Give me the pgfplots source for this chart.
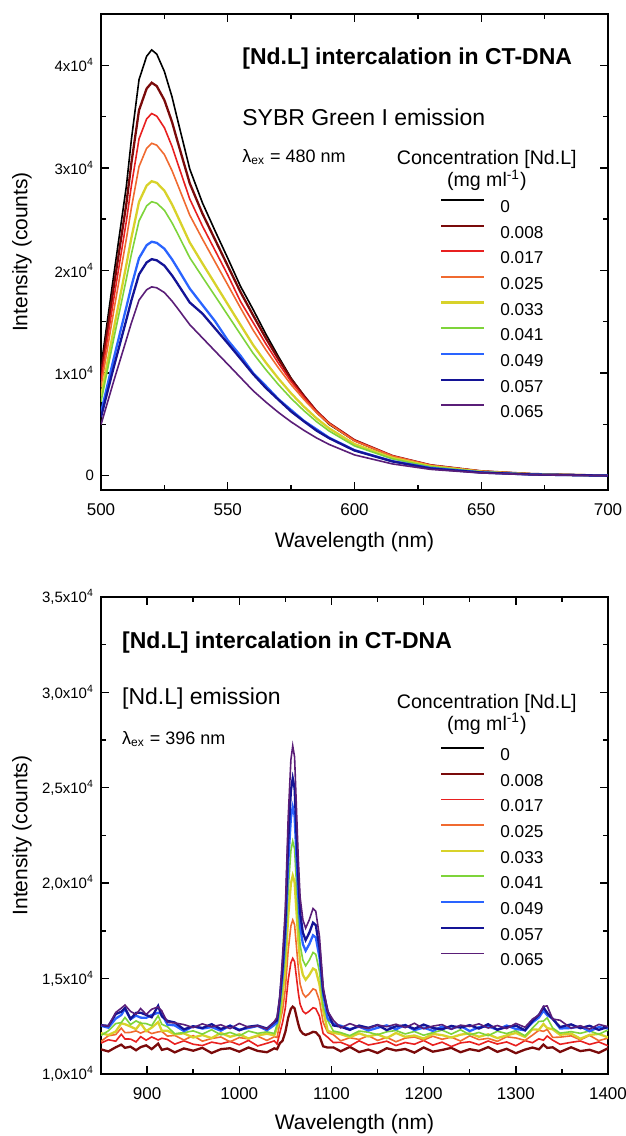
\documentclass[border=0pt]{standalone}
\usepackage{fontspec}
\setmainfont{Liberation Sans}
\usepackage{pgfplots}
\usepackage{pgfplotstable}
\pgfplotsset{compat=1.18}

\definecolor{cK}{HTML}{000000}
\definecolor{cDR}{HTML}{7A0A0A}
\definecolor{cR}{HTML}{E82020}
\definecolor{cO}{HTML}{F06A30}
\definecolor{cY}{HTML}{D8D22A}
\definecolor{cG}{HTML}{7ED43A}
\definecolor{cB}{HTML}{2A64FF}
\definecolor{cN}{HTML}{141496}
\definecolor{cP}{HTML}{5A1E78}

% SYBR Green I emission, counts
\pgfplotstableread{
x   k     dr    r     o     y     g     b     n     p
500 10600 9940  9290  8650  7710  7190  6160  5700  4970
505 19500 18350 17170 16010 14260 13310 11400 10550 9200
510 28200 26500 24780 23070 20550 19170 16420 15190 13250
512 32790 30490 28280 26110 23190 21600 18470 17090 14900
515 38600 35620 32830 30130 26690 24830 21200 19620 17110
518 40880 37730 34770 31910 28270 26300 22460 20780 18120
520 41500 38300 35300 32400 28700 26700 22800 21100 18400
522 41090 37970 35040 32210 28540 26560 22690 20990 18310
525 39400 36610 33920 31300 27780 25870 22120 20470 17850
528 36940 34490 32100 29740 26450 24650 21090 19520 17020
530 34900 32750 30620 28510 25400 23700 20290 18780 16380
535 29900 28500 26970 25400 22730 21250 18240 16880 14720
540 26600 25550 24340 23070 20690 19370 16640 15800 13430
545 23860 23000 21950 20830 18700 17510 15050 14350 12140
550 21200 20450 19560 18600 16700 15650 13200 12900 10860
555 18470 17910 16990 16360 14710 13780 11700 11410 9570
560 16200 15630 14930 14190 12740 11930 10000 9900  8280
565 13820 13410 12860 12270 11030 10340 8750  8560  7180
570 11600 11360 10950 10500 9460  8870  7450  7400  6160
575 9500  9410  9170  8870  8020  7530  6400  6250  5240
580 7800  7800  7650  7440  6740  6340  5350  5300  4420
585 6180  6290  6250  6150  5590  5270  4520  4390  3680
590 5000  5110  5110  5050  4610  4350  3700  3650  3040
600 3400  3460  3440  3380  3080  2900  2480  2450  2020
615 1870  1920  1920  1900  1730  1630  1410  1380  1140
630 1000  1020  1020  1010  920   870   750   700   610
650 420   430   430   430   390   370   320   300   260
670 170   160   160   160   140   130   110   110   90
700 0     0     0     0     0     0     0     0     0
}\sybr

% [Nd.L] emission, counts
\pgfplotstableread{
x    dr    r     o     y     g     b     n     p
850  11290 11620 11710 12140 12020 12530 12560 12560
858  11183 11795 12002 12044 12261 12426 12521 12517
866  11401 11718 12069 12226 12642 12904 13142 13228
872  11540 12082 12405 12658 12694 13092 13264 13449
876  11371 11835 12167 12610 12964 13420 13459 13613
882  11433 11831 12180 12488 12592 12872 12887 13282
888  11244 11683 12261 12350 12783 13060 13203 13125
893  11407 11958 12143 12664 12663 12956 13213 13432
899  11503 11771 12270 12248 12642 12942 13097 13122
905  11304 11943 12121 12430 12533 13090 12973 13395
912  11591 11785 12207 12720 13054 13210 13569 13513
916  11264 11873 12231 12260 12603 13150 13023 13305
922  11337 11812 11986 12270 12481 12590 12786 12708
930  11133 11565 12022 12074 12111 12546 12701 12677
940  11340 11740 11780 12130 12170 12250 12340 12590
950  11220 11560 12010 11910 12260 12500 12500 12430
960  11370 11490 11720 12040 12090 12380 12410 12630
970  11100 11670 11860 11880 12320 12460 12610 12470
980  11300 11580 11940 12150 12050 12270 12360 12580
990  11350 11710 11690 11950 12180 12540 12520 12380
1000 11170 11530 11910 12080 12000 12320 12290 12650
1010 11390 11760 11840 11860 12250 12410 12480 12450
1020 11210 11470 11980 12020 12130 12520 12540 12520
1030 11140 11610 11760 12110 12210 12290 12380 12360
1038 11343 11735 11952 12024 12121 12566 12711 12747
1041 11298 11574 11917 12422 12592 12708 12812 12981
1044 11611 12151 12684 12824 13176 13836 13966 14027
1047 11750 12705 13355 14130 14673 15210 15593 16235
1050 12208 13473 14462 15528 16371 17272 17931 18674
1053 12937 14900 16453 18216 19587 20984 22107 23378
1056 13416 15837 17759 19980 21698 23420 24848 26465
1058 13530 16060 18070 20400 22200 24000 25500 27200
1060 13439 15882 17821 20064 21798 23536 24978 26612
1062 13028 15079 16702 18552 19989 21448 22629 23966
1064 12618 14276 15582 17040 18180 19360 20280 21320
1066 12299 13652 14711 15864 16773 17736 18453 19262
1069 12116 13295 14214 15192 15969 16808 17409 18086
1072 12048 13161 14027 14940 15668 16460 17018 17645
1076 12116 13295 14214 15192 15969 16808 17409 18086
1080 12208 13473 14462 15528 16371 17272 17931 18674
1083 12185 13429 14400 15444 16271 17156 17801 18527
1087 11980 13027 13840 14688 15366 16112 16626 17204
1091 11452 12119 12703 13330 13538 14180 14348 14555
1096 11384 11923 12171 12260 12803 12890 13273 13285
1102 11394 11647 12063 12156 12251 12634 12546 12821
1110 11190 11660 11740 12090 12170 12530 12480 12420
1120 11420 11470 11900 11930 12010 12350 12310 12640
1130 11150 11740 11810 12130 12250 12480 12540 12460
1140 11280 11520 12010 11970 12190 12280 12420 12390
1150 11100 11610 11760 12080 12060 12420 12570 12570
1160 11350 11720 11920 11880 12210 12550 12300 12480
1170 11230 11490 11690 12150 12280 12340 12500 12610
1180 11310 11650 11880 11950 12100 12570 12550 12430
1190 11120 11560 11940 12020 12230 12300 12370 12660
1200 11390 11760 11780 11860 12030 12430 12590 12370
1210 11170 11510 11980 12100 12170 12260 12410 12510
1220 11260 11670 11820 12040 12300 12490 12340 12590
1230 11370 11440 11930 11910 12090 12370 12520 12340
1240 11140 11630 11730 12060 12320 12520 12430 12560
1250 11300 11690 12000 12130 12050 12250 12560 12490
1260 11210 11530 11800 11950 12180 12450 12380 12630
1270 11410 11730 11870 12080 12010 12500 12610 12410
1280 11160 11570 11710 11880 12240 12320 12320 12540
1290 11320 11680 11950 12020 12120 12540 12460 12380
1300 11090 11480 11890 12150 12270 12360 12540 12650
1310 11280 11750 11760 11940 12000 12290 12290 12450
1318 11386 11639 12034 12338 12401 12702 12771 12874
1325 11294 11843 12291 12320 12753 12960 13093 13095
1330 11540 11772 12235 12618 12774 13322 13494 13549
1334 11368 11990 12334 12406 12943 13084 13208 13566
1340 11398 11774 11917 12342 12412 12908 12882 12881
1348 11153 11555 11932 12054 12141 12386 12461 12817
1360 11400 11660 12000 12120 12220 12410 12600 12400
1370 11200 11730 11790 11850 12130 12490 12400 12530
1380 11270 11550 12020 12050 12260 12240 12530 12350
1390 11110 11680 11750 12100 12080 12460 12310 12600
1400 11350 11480 11880 11920 12310 12390 12470 12480
}\ndl

\tikzset{
  note/.style={anchor=west, inner sep=0pt},
  thin/.style={line width=0.8pt},
  thick/.style={line width=1.15pt},
}

\pgfplotsset{
  spec/.style={
    width=253.5pt, height=238pt, scale only axis,
    anchor=south west,
    tick align=inside,
    major tick length=4pt, minor tick length=2.5pt,
    axis line style={line width=0.8pt},
    every tick/.style={black, line width=0.7pt},
    scaled y ticks=false,
    xticklabel style={font=\fontsize{8.5}{8.5}\selectfont, yshift=-3.5pt},
    yticklabel style={font=\fontsize{7.5}{7.5}\selectfont},
    /pgf/number format/assume math mode=true,
    /pgf/number format/1000 sep={},
    minor x tick num=1, minor y tick num=1,
    xlabel={Wavelength (nm)},
    ylabel={Intensity (counts)},
    label style={font=\fontsize{10.5}{10.5}\selectfont},
    ylabel style={at={(axis description cs:-0.156,0.5)}, anchor=center},
    legend cell align=left,
    legend image code/.code={\draw[#1] (0pt,3pt) -- (21.5pt,3pt);},
  },
  leg/.style={
    legend style={at={(axis description cs:0.668,#1)}, anchor=north west,
      draw=none, fill=none, inner sep=0pt, column sep=7.5pt, row sep=6.1pt,
      font=\fontsize{8.6}{8.6}\selectfont,
      nodes={inner sep=0pt, text height=6.5pt, text depth=0pt}},
  },
}

\begin{document}
\begin{tikzpicture}
\useasboundingbox (0,0) rectangle (313pt,568pt);

% top panel
\begin{axis}[spec, leg=0.612,
  at={(50.5pt,323pt)},
  xmin=500, xmax=700, ymin=-1400, ymax=45000,
  xtick={500,550,600,650,700},
  ytick={0,10000,20000,30000,40000},
  yticklabels={0,{1x10\textsuperscript{4}},{2x10\textsuperscript{4}},{3x10\textsuperscript{4}},{4x10\textsuperscript{4}}},
  xlabel style={at={(axis description cs:0.5,-0.109)}, anchor=center},
]
\addplot[cK, thin] table[x=x, y=k] {\sybr};
\addlegendentry{0}
\addplot[cDR, thick] table[x=x, y=dr] {\sybr};
\addlegendentry{0.008}
\addplot[cR, thin] table[x=x, y=r] {\sybr};
\addlegendentry{0.017}
\addplot[cO, thin] table[x=x, y=o] {\sybr};
\addlegendentry{0.025}
\addplot[cY, thick] table[x=x, y=y] {\sybr};
\addlegendentry{0.033}
\addplot[cG, thin] table[x=x, y=g] {\sybr};
\addlegendentry{0.041}
\addplot[cB, thick] table[x=x, y=b] {\sybr};
\addlegendentry{0.049}
\addplot[cN, thick] table[x=x, y=n] {\sybr};
\addlegendentry{0.057}
\addplot[cP, thin] table[x=x, y=p] {\sybr};
\addlegendentry{0.065}
\node[note, font=\fontsize{11.5}{11.5}\selectfont\bfseries]
  at (axis description cs:0.278,0.907) {[Nd.L] intercalation in CT-DNA};
\node[note, font=\fontsize{11.5}{11.5}\selectfont]
  at (axis description cs:0.278,0.784) {SYBR Green I emission};
\node[note, font=\fontsize{9}{9}\selectfont]
  at (axis description cs:0.278,0.700) {λ\textsubscript{ex} = 480 nm};
\node[font=\fontsize{9.8}{9.8}\selectfont]
  at (axis description cs:0.761,0.695) {Concentration [Nd.L]};
\node[font=\fontsize{9.8}{9.8}\selectfont]
  at (axis description cs:0.761,0.651) {(mg ml\textsuperscript{-1})};
\end{axis}

% bottom panel
\begin{axis}[spec, leg=0.686,
  at={(50.5pt,31pt)}, height=238.5pt,
  xmin=850, xmax=1400, ymin=10000, ymax=35000,
  xtick={900,1000,1100,1200,1300,1400},
  ytick={10000,15000,20000,25000,30000,35000},
  yticklabels={{1,0x10\textsuperscript{4}},{1,5x10\textsuperscript{4}},{2,0x10\textsuperscript{4}},{2,5x10\textsuperscript{4}},{3,0x10\textsuperscript{4}},{3,5x10\textsuperscript{4}}},
  xlabel style={at={(axis description cs:0.5,-0.105)}, anchor=center},
]
\addlegendimage{cK, thin}
\addlegendentry{0}
\addplot[cDR, thick] table[x=x, y=dr] {\ndl};
\addlegendentry{0.008}
\addplot[cR, thin] table[x=x, y=r] {\ndl};
\addlegendentry{0.017}
\addplot[cO, thin] table[x=x, y=o] {\ndl};
\addlegendentry{0.025}
\addplot[cY, thick] table[x=x, y=y] {\ndl};
\addlegendentry{0.033}
\addplot[cG, thin] table[x=x, y=g] {\ndl};
\addlegendentry{0.041}
\addplot[cB, thick] table[x=x, y=b] {\ndl};
\addlegendentry{0.049}
\addplot[cN, thick] table[x=x, y=n] {\ndl};
\addlegendentry{0.057}
\addplot[cP, thin] table[x=x, y=p] {\ndl};
\addlegendentry{0.065}
\node[note, font=\fontsize{11.5}{11.5}\selectfont\bfseries]
  at (axis description cs:0.041,0.904) {[Nd.L] intercalation in CT-DNA};
\node[note, font=\fontsize{11.5}{11.5}\selectfont]
  at (axis description cs:0.041,0.788) {[Nd.L] emission};
\node[note, font=\fontsize{9}{9}\selectfont]
  at (axis description cs:0.041,0.702) {λ\textsubscript{ex} = 396 nm};
\node[font=\fontsize{9.8}{9.8}\selectfont]
  at (axis description cs:0.761,0.776) {Concentration [Nd.L]};
\node[font=\fontsize{9.8}{9.8}\selectfont]
  at (axis description cs:0.761,0.734) {(mg ml\textsuperscript{-1})};
\end{axis}
\end{tikzpicture}
\end{document}
